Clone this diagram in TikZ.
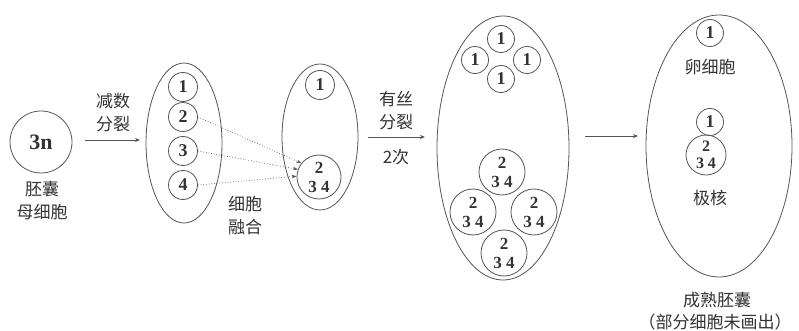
\documentclass[tikz,border=0pt]{standalone}
\usepackage{fontspec}
\setmainfont{Liberation Serif}
\newfontfamily\cjk{Noto Sans CJK SC}
\usetikzlibrary{arrows.meta,shapes.geometric}
\definecolor{ln}{HTML}{555555}
\definecolor{txt}{HTML}{333333}
\begin{document}
\begin{tikzpicture}[x=1pt,y=-1pt,line width=0.8pt,
  cell/.style={circle,draw=ln,minimum size=#1,inner sep=0pt,text=txt,
    font=\bfseries\fontsize{18}{18}\selectfont,align=center},
  two/.style={font=\bfseries\fontsize{17}{19}\selectfont},
  twos/.style={font=\bfseries\fontsize{16}{17}\selectfont},
  sac/.style={ellipse,draw=ln,inner sep=0pt},
  lbl/.style={text=txt,font=\cjk\fontsize{17}{23}\selectfont,align=center,inner sep=0pt},
  arr/.style={draw=ln,-{Stealth[length=5pt,width=4pt]}},
  dot/.style={draw=ln,dotted,line width=0.7pt,-{Stealth[length=5pt,width=3.5pt]}}]
\useasboundingbox (0,0) rectangle (799,331);
% mother cell
\node[cell=62pt,font=\bfseries\fontsize{22}{22}\selectfont] (m) at (41,142) {3n};
\node[lbl] (mlab) at (42,201) {胚囊\\母细胞};
% sac 1
\node[sac,minimum width=76pt,minimum height=160pt] (s1) at (184,143) {};
\node[cell=29pt] (a1) at (183,87) {1};
\node[cell=29pt] (a2) at (183,117) {2};
\node[cell=29pt] (a3) at (183,151) {3};
\node[cell=29pt] (a4) at (183,185) {4};
\coordinate (p1s) at (85,140);
\coordinate (p1e) at (140,140);
\draw[arr] (p1s) -- (p1e);
\node[lbl] (t1) at (113,113) {减数\\分裂};
% sac 2
\node[sac,minimum width=76pt,minimum height=146pt] (s2) at (320,137) {};
\node[cell=29pt] (b1) at (320,85) {1};
\node[cell=44pt,two] (b2) at (319,177) {2\\3 4};
\draw[dot] (a2.east) -- (b2.142);
\draw[dot] (a3.east) -- (b2.160);
\draw[dot] (a4.east) -- (b2.178);
\node[lbl] (t2) at (245,216) {细胞\\融合};
% arrow 2
\coordinate (p2s) at (368,137);
\coordinate (p2e) at (425,137);
\draw[arr] (p2s) -- (p2e);
\node[lbl] (t3) at (396,111) {有丝\\分裂};
\node[lbl] (t4) at (396,157) {2次};
% sac 3
\node[sac,minimum width=132pt,minimum height=264pt] (s3) at (503,148) {};
\node[cell=27pt] (c1) at (501,39) {1};
\node[cell=27pt] (c2) at (475,60) {1};
\node[cell=27pt] (c3) at (527,60) {1};
\node[cell=27pt] (c4) at (501,79) {1};
\node[cell=46pt,two] (d1) at (502,172) {2\\3 4};
\node[cell=46pt,two] (d2) at (473,212) {2\\3 4};
\node[cell=46pt,two] (d3) at (534,212) {2\\3 4};
\node[cell=46pt,two] (d4) at (504,253) {2\\3 4};
% arrow 3
\coordinate (p3s) at (585,136);
\coordinate (p3e) at (638,136);
\draw[arr] (p3s) -- (p3e);
% sac 4
\node[sac,minimum width=146pt,minimum height=262pt] (s4) at (719,146) {};
\node[cell=27pt] (e1) at (710,33) {1};
\node[lbl] (t5) at (710,67) {卵细胞};
\node[cell=27pt] (e2) at (710,122) {1};
\node[cell=40pt,twos] (e3) at (706,155) {2\\3 4};
\node[lbl] (t6) at (710,198) {极核};
\node[lbl] (t7) at (717,300) {成熟胚囊};
\node[lbl] (t8) at (715,322) {（部分细胞未画出）};
\end{tikzpicture}
\end{document}
